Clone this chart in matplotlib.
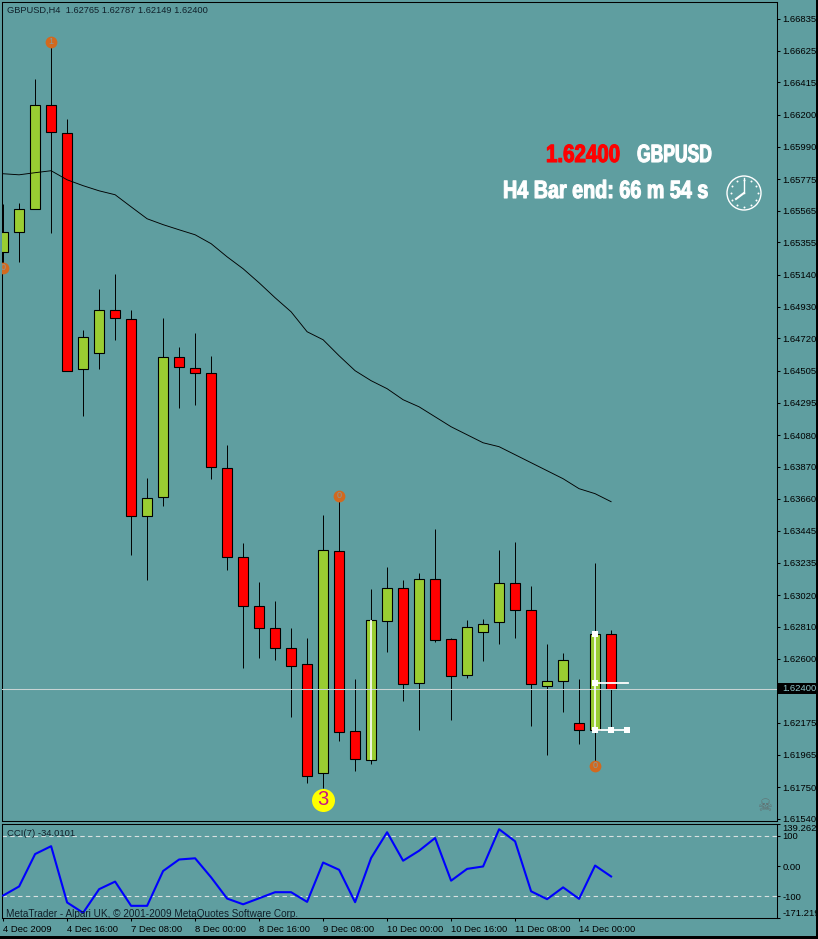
import numpy as np
import matplotlib
matplotlib.use('Agg')
import matplotlib.pyplot as plt
from matplotlib.patheffects import AbstractPathEffect
from matplotlib.transforms import Affine2D

BG = '#5F9EA0'
UP = '#9ACD32'
DOWN = '#FF0000'

# bar data
opens = [1.65294, 1.65426, 1.65578, 1.66267, 1.66081, 1.64519, 1.64625, 1.64910, 1.64850, 1.63546,
         1.63672, 1.64598, 1.64526, 1.64493, 1.63864, 1.63274, 1.62950, 1.62804, 1.62672, 1.62566,
         1.61845, 1.63314, 1.62123, 1.61931, 1.62851, 1.63069, 1.62440, 1.63129, 1.62732, 1.62493,
         1.62778, 1.62844, 1.63102, 1.62924, 1.62420, 1.62454, 1.62176, 1.62129, 1.62765]
highs = [1.65611, 1.65618, 1.66439, 1.66684, 1.66174, 1.64777, 1.65049, 1.65148, 1.64910, 1.63797,
         1.64857, 1.64665, 1.64757, 1.64605, 1.64016, 1.63367, 1.63109, 1.62983, 1.62804, 1.62738,
         1.63553, 1.63678, 1.62467, 1.63063, 1.63208, 1.63122, 1.63169, 1.63460, 1.62738, 1.62857,
         1.62864, 1.63321, 1.63374, 1.63082, 1.62698, 1.62639, 1.62467, 1.63235, 1.62787]
lows = [1.65188, 1.65227, 1.65578, 1.65419, 1.64506, 1.64207, 1.64519, 1.64711, 1.63288, 1.63122,
        1.63612, 1.64261, 1.64281, 1.63791, 1.63188, 1.62540, 1.62606, 1.62593, 1.62215, 1.61778,
        1.61745, 1.62056, 1.61858, 1.61904, 1.62646, 1.62321, 1.62129, 1.62712, 1.62195, 1.62473,
        1.62586, 1.62698, 1.62738, 1.62156, 1.61964, 1.62248, 1.62037, 1.61891, 1.62149]
closes = [1.65426, 1.65578, 1.66267, 1.66088, 1.64506, 1.64731, 1.64910, 1.64853, 1.63546, 1.63665,
          1.64598, 1.64529, 1.64489, 1.63870, 1.63274, 1.62950, 1.62804, 1.62672, 1.62553, 1.61825,
          1.63321, 1.62116, 1.61937, 1.62857, 1.63069, 1.62434, 1.63129, 1.62725, 1.62487, 1.62811,
          1.62831, 1.63102, 1.62924, 1.62434, 1.62454, 1.62593, 1.62129, 1.62765, 1.62400]

ma = [1.65810, 1.65803, 1.65817, 1.65830, 1.65770, 1.65731, 1.65697, 1.65671, 1.65591, 1.65512,
      1.65473, 1.65439, 1.65406, 1.65347, 1.65260, 1.65181, 1.65088, 1.64989, 1.64896, 1.64764,
      1.64711, 1.64605, 1.64506, 1.64440, 1.64387, 1.64314, 1.64267, 1.64201, 1.64135, 1.64082,
      1.64029, 1.64003, 1.63950, 1.63897, 1.63844, 1.63791, 1.63725, 1.63692, 1.63639]

cci = [-97, -67, 40, 66, -120, -154, -76, -51, -131, -131,
       -16, 22, 26, -37, -107, -126, -106, -86, -86, -118,
       12, -12, -119, 27, 112, 18, 51, 93, -48, -9,
       -1, 122, 82, -83, -109, -70, -108, 2, -34]

price_ticks = [1.66835, 1.66625, 1.66415, 1.66200, 1.65990, 1.65775, 1.65565, 1.65355, 1.65140, 1.64930,
               1.64720, 1.64505, 1.64295, 1.64080, 1.63870, 1.63660, 1.63445, 1.63235, 1.63020, 1.62810,
               1.62600, 1.62175, 1.61965, 1.61750, 1.61540]
date_ticks = [0, 4, 8, 12, 16, 20, 24, 28, 32, 36]
date_labels = ['4 Dec 2009', '4 Dec 16:00', '7 Dec 08:00', '8 Dec 00:00', '8 Dec 16:00',
               '9 Dec 08:00', '10 Dec 00:00', '10 Dec 16:00', '11 Dec 08:00', '14 Dec 00:00']

bid = 1.62400
trend_bars = [37, 38, 39]
trend_price = 1.62129
mid_price = 1.62440
signal_bars = [0, 3, 21, 37]
signal_prices = [1.65188, 1.66684, 1.63678, 1.61891]
signal_text = ['0', '1', '0', '0']

W, H = 818, 939
plt.rcParams['font.family'] = ['Liberation Sans', 'DejaVu Sans']
plt.rcParams['font.size'] = 6.8
plt.rcParams['axes.linewidth'] = 0.75

fig = plt.figure(figsize=(W / 100, H / 100), dpi=100, facecolor=BG)

def pixel_axes(x0, y0, x1, y1):
    return fig.add_axes([x0 / W, 1 - y1 / H, (x1 - x0) / W, (y1 - y0) / H], facecolor=BG)

ax = pixel_axes(2, 2, 777, 821)
ax2 = pixel_axes(2, 824, 777, 918)
xlim = (-0.07, 48.37)

# main chart
x = np.arange(len(opens))
o, h, l, c = map(np.array, (opens, highs, lows, closes))
colors = [UP if cl > op else DOWN for op, cl in zip(o, c)]
ax.vlines(x, l, h, color='black', lw=0.7, zorder=2)
ax.bar(x, np.abs(c - o), bottom=np.minimum(o, c), width=0.66, color=colors, edgecolor='black',
       linewidth=0.8, zorder=3)
ax.plot(x, ma, color='black', lw=0.65, zorder=4)
ax.axhline(bid, color='#C8D4D4', lw=0.75, zorder=5)

# selected bars
ax.vlines([23, 37], [opens[23], opens[37]], [closes[23], closes[37]], color='white', lw=1.2, zorder=6)
ax.plot([37, 39.05], [mid_price, mid_price], color='white', lw=1.3, zorder=6)
ax.plot(trend_bars, [trend_price] * 3, color='white', lw=1.3, zorder=6)
ax.scatter([37, 37, 37, 38, 39], [closes[37], mid_price, trend_price, trend_price, trend_price],
           marker='s', s=19, color='white', linewidths=0, zorder=7)

# signal markers
ax.scatter(signal_bars, signal_prices, s=72, color='#D2691E', linewidths=0, zorder=8)
for b, p, t in zip(signal_bars, signal_prices, signal_text):
    ax.text(b, p, t, color='#8A9A9A', fontsize=6.5, ha='center', va='center', zorder=9, clip_on=True)
ax.scatter([20], [1.61666], s=275, color='#FFFF00', linewidths=0, zorder=8)
ax.text(20, 1.61666, '3', color='#C71585', fontsize=14.5, ha='center', va='center', zorder=9)

ax.set_xlim(xlim)
ax.set_ylim(1.61525, 1.66947)
ax.yaxis.tick_right()
ax.set_yticks(price_ticks)
ax.set_yticklabels([f'{p:.5f}' for p in price_ticks])
ax.tick_params(axis='y', length=2.2, width=0.75, pad=1.6, labelcolor='black')
ax.set_xticks([])

# CCI panel
ax2.axhline(100, color='#D8E0E0', lw=0.8, ls=(0, (4, 3)), zorder=1)
ax2.axhline(-100, color='#D8E0E0', lw=0.8, ls=(0, (4, 3)), zorder=1)
ax2.plot(x, cci, color='#0000FF', lw=1.5, zorder=3)
ax2.set_xlim(xlim)
ax2.set_ylim(-171.219, 139.2626)
ax2.yaxis.tick_right()
ax2.set_yticks([139.2626, 100, 0, -100, -171.219])
ax2.set_yticklabels(['139.2626', '100', '0.00', '-100', '-171.219'])
tick_labels = ax2.get_yticklabels()
tick_labels[0].set_va('top')
tick_labels[4].set_va('bottom')
ax2.tick_params(axis='y', length=2.2, width=0.75, pad=1.6)
ax2.set_xticks(date_ticks)
ax2.set_xticklabels(date_labels, ha='left')
ax2.tick_params(axis='x', length=2.2, width=0.75, pad=2.5)

# overlay in pixel coordinates for the text and decoration
top = fig.add_axes([0, 0, 1, 1], facecolor='none', zorder=20)
top.set_xlim(0, W)
top.set_ylim(H, 0)
top.axis('off')

top.text(7, 10, 'GBPUSD,H4  1.62765 1.62787 1.62149 1.62400', color='#10202A', va='center', fontsize=6.7)
top.text(7, 833, 'CCI(7) -34.0101', color='#10202A', va='center', fontsize=6.8)
top.text(6, 914, 'MetaTrader - Alpari UK, © 2001-2009 MetaQuotes Software Corp.', color='#10202A',
         va='center', fontsize=7.2)

# no condensed bold font is installed, so squeeze the glyphs sideways
class Squeeze(AbstractPathEffect):
    def __init__(self, x0, sx, stroke=0.8):
        super().__init__()
        self.x0, self.sx, self.stroke = x0, sx, stroke

    def draw_path(self, renderer, gc, tpath, affine, rgbFace=None):
        t = affine + Affine2D().translate(-self.x0, 0).scale(self.sx, 1).translate(self.x0, 0)
        gc0 = renderer.new_gc()
        gc0.copy_properties(gc)
        gc0.set_linewidth(self.stroke)
        gc0.set_foreground(rgbFace)
        renderer.draw_path(gc0, tpath, t, rgbFace)
        gc0.restore()

def big_text(px, py, s, color, sx):
    top.text(px, py, s, color=color, weight='bold', fontsize=18, va='center',
             path_effects=[Squeeze(px, sx)])

big_text(546, 155, '1.62400', DOWN, 0.82)
big_text(637, 155, 'GBPUSD', 'white', 0.70)
big_text(503, 191, 'H4 Bar end: 66 m 54 s', 'white', 0.79)

# clock
cx, cy = 744, 193
angles = np.deg2rad(np.arange(0, 360, 30))
top.add_patch(plt.Circle((cx, cy), 17, fill=False, ec='white', lw=1.0))
top.scatter(cx + 13.5 * np.cos(angles), cy + 13.5 * np.sin(angles), s=2, color='white', linewidths=0)
top.plot([cx, cx], [cy, cy - 15], color='white', lw=1.0)
top.plot([cx, cx - 8], [cy, cy + 6], color='white', lw=1.5)

top.text(765, 806, '\u2620', color='#5F6F70', fontsize=12, ha='center', va='center', family='DejaVu Sans')

# current price box
top.add_patch(plt.Rectangle((778, 683), 38, 11, color='black', lw=0))
top.text(782.5, 688.5, f'{bid:.5f}', color='#8FC8CC', va='center')

# window edge
top.add_patch(plt.Rectangle((816, 0), 2, H, color='black', lw=0))
top.add_patch(plt.Rectangle((0, 936), W, 3, color='black', lw=0))

fig.savefig('out.png', dpi=100, facecolor=BG)
